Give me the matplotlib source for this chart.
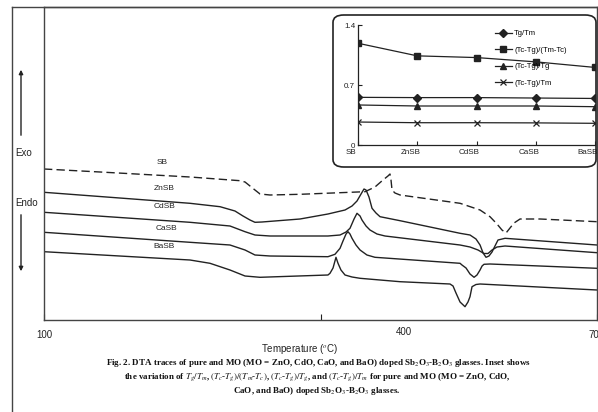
import matplotlib
matplotlib.use('Agg')
import matplotlib.pyplot as plt
import matplotlib.transforms as mtransforms
from matplotlib.patches import FancyBboxPatch, FancyArrowPatch
from matplotlib.lines import Line2D

plt.rcParams['font.family'] = ['Liberation Sans', 'DejaVu Sans']
plt.rcParams['mathtext.fontset'] = 'stix'

# DTA traces (temperature in degC, signal in arbitrary units)
sb_t = [100, 160.8, 258.4, 312.7, 318.1, 323.5, 328.9, 334.4, 345.2, 377.8, 448.3, 459.1,
        467.8, 473.2, 475.4, 476.5, 477.6, 480.8, 486.3, 551.4, 573.1, 583.9, 591.5, 596.9,
        601.3, 605.6, 610.0, 616.5, 638.2, 700]
sb_y = [151, 148, 143, 139.3, 138, 134, 130, 126, 125, 125.7, 128.3, 133,
        140, 144, 146, 140, 130, 127, 125, 116.7, 110, 103.3, 96, 90,
        87, 92, 97, 101, 101, 98.3]

zn_t = [100, 258.4, 291.0, 307.2, 315.9, 323.5, 328.9, 336.5, 377.8, 408.1, 426.6, 434.2,
        439.6, 444.0, 447.2, 449.4, 452.6, 455.9, 460.2, 464.6, 486.3, 551.4, 562.2, 568.7,
        573.1, 576.4, 579.6, 582.8, 586.1, 589.3, 592.6, 600.2, 700]
zn_y = [127.7, 116.7, 113.3, 109, 104, 100, 97.7, 98, 101, 106, 110, 114,
        119, 126, 131, 130, 123, 111.7, 107, 103.3, 99.3, 86.7, 85, 81,
        75, 67, 62.7, 64, 68, 74, 80, 81.7, 75]

cd_t = [100, 258.4, 301.8, 318.1, 328.9, 345.2, 408.1, 421.2, 427.7, 432.0, 436.4, 439.6,
        442.9, 445.0, 449.4, 453.7, 461.3, 470.0, 551.4, 562.2, 570.9, 577.4, 581.8, 586.1,
        591.5, 600.2, 700]
cd_y = [107.7, 97.7, 94, 88.3, 85, 84, 84, 85, 88, 91.7, 101, 106.7,
        104, 100, 94, 90, 86, 84, 75, 73, 70, 66.5, 66.5, 70,
        73, 74, 67.3]

ca_t = [100, 258.4, 301.8, 318.1, 328.9, 345.2, 408.1, 415.7, 421.2, 424.4, 427.7, 429.8,
        432.0, 434.2, 438.5, 442.9, 450.4, 459.1, 551.4, 553.5, 557.9, 562.2, 566.6, 569.8,
        573.1, 575.3, 577.4, 583.9, 700]
ca_y = [87.7, 77.7, 75, 70, 65, 64, 63.3, 65.7, 71.7, 79, 86, 88.3,
        86, 81.7, 75, 70, 65, 62.7, 56.7, 55, 52, 46, 42.7, 45,
        50, 54, 55.7, 56, 51.7]

ba_t = [100, 258.4, 280.1, 301.8, 318.1, 334.4, 408.1, 410.3, 413.6, 416.8, 419.0, 422.2,
        426.6, 434.2, 442.9, 486.3, 540.5, 543.8, 547.0, 551.4, 556.8, 560.0, 562.2, 564.4,
        568.7, 573.1, 700]
ba_y = [68.3, 60, 56.7, 50, 44, 42.7, 45, 46.7, 52, 62.7, 56.7, 50,
        45, 43, 41.7, 38.3, 36, 34, 27, 18, 13.3, 18, 23.3, 33.3,
        35.5, 36, 30]

# inset data
glasses = ['SB', 'ZnSB', 'CdSB', 'CaSB', 'BaSB']
tg_tm = [0.556, 0.553, 0.553, 0.548, 0.543]
k_h = [1.187, 1.04, 1.02, 0.97, 0.905]
tc_tg = [0.467, 0.455, 0.455, 0.455, 0.447]
tc_tm = [0.268, 0.26, 0.26, 0.258, 0.253]

W, H = 598, 412
fig = plt.figure(figsize=(W / 100, H / 100), dpi=100)


def fx(px):
    return px / W


def fy(py):
    return 1 - py / H


ink = '#222222'

# main DTA panel
ax = fig.add_axes([fx(44), fy(320), fx(597) - fx(44), fy(7) - fy(320)])
ax.plot(sb_t, sb_y, color=ink, lw=1.0, ls=(0, (6, 3)))
ax.plot(zn_t, zn_y, color=ink, lw=1.0)
ax.plot(cd_t, cd_y, color=ink, lw=1.0)
ax.plot(ca_t, ca_y, color=ink, lw=1.0)
ax.plot(ba_t, ba_y, color=ink, lw=1.0)
ax.set_xlim(100, 700)
ax.set_ylim(0, 313)
ax.set_yticks([])
ax.set_xticks([100, 400, 700])
ax.set_xticklabels(['100', '', '700'])
ax.tick_params(axis='x', direction='in', length=4, pad=7, labelsize=7, colors=ink)
for s in ax.spines.values():
    s.set_color('#444444')
    s.set_linewidth(1.0)

lab_kw = dict(fontsize=6, ha='center', va='center', color=ink)
ax.text(228.5, 158, 'SB', **lab_kw)
ax.text(230.7, 132, 'ZnSB', **lab_kw)
ax.text(230.7, 113, 'CdSB', **lab_kw)
ax.text(232.8, 92, 'CaSB', **lab_kw)
ax.text(230.7, 73, 'BaSB', **lab_kw)

fig.text(fx(404), fy(332), '400', fontsize=7, ha='center', va='center', color=ink)
fig.text(fx(300), fy(349), 'Temperature ($^{o}$C)', fontsize=7, ha='center', va='center',
         color=ink)

# outer frame
fig.add_artist(Line2D([fx(12), fx(12)], [fy(7), 0], transform=fig.transFigure,
                      color='#444444', lw=1.0))
fig.add_artist(Line2D([fx(12), 1], [fy(7), fy(7)], transform=fig.transFigure,
                      color='#444444', lw=1.0))

# Exo / Endo arrows
fig.text(fx(24), fy(153), 'Exo', fontsize=7, ha='center', va='center', color=ink)
fig.text(fx(27), fy(203), 'Endo', fontsize=7, ha='center', va='center', color=ink)
fig.add_artist(FancyArrowPatch((fx(21), fy(138)), (fx(21), fy(67)),
                               transform=fig.transFigure, arrowstyle='-|>',
                               mutation_scale=6, color=ink, lw=1.0))
fig.add_artist(FancyArrowPatch((fx(21), fy(212)), (fx(21), fy(274)),
                               transform=fig.transFigure, arrowstyle='-|>',
                               mutation_scale=6, color=ink, lw=1.0))

# inset frame
box = FancyBboxPatch((fx(333), fy(167)), fx(596) - fx(333), fy(15) - fy(167),
                     boxstyle='round,pad=0,rounding_size=0.018',
                     transform=fig.transFigure, facecolor='white', edgecolor=ink,
                     lw=1.2, zorder=1)
fig.add_artist(box)

ins = fig.add_axes([fx(358), fy(145), fx(595) - fx(358), fy(25) - fy(145)], zorder=2)
ins.patch.set_alpha(0)
xs = range(len(glasses))
mk = dict(color=ink, lw=0.9, ms=4.2)
ins.plot(xs, tg_tm, marker='D', label='Tg/Tm', **mk)
ins.plot(xs, k_h, marker='s', label='(Tc-Tg)/(Tm-Tc)', **mk)
ins.plot(xs, tc_tg, marker='^', label='(Tc-Tg)/Tg', **mk)
ins.plot(xs, tc_tm, marker='x', label='(Tc-Tg)/Tm', mew=0.9, **mk)
ins.set_xlim(0, 4)
ins.set_ylim(0, 1.4)
ins.set_yticks([0, 0.7, 1.4])
ins.set_yticklabels(['0', '0.7', '1.4'])
ins.set_xticks(list(xs))
ins.set_xticklabels(glasses)
ins.tick_params(direction='in', length=3, labelsize=5.8, colors=ink, pad=2)
ins.tick_params(axis='x', pad=3)
# the scanned labels sit a little left of their categories
shift = mtransforms.ScaledTranslation(-7 / 100, 0, fig.dpi_scale_trans)
for lbl in ins.get_xticklabels():
    lbl.set_transform(lbl.get_transform() + shift)
ins.spines['top'].set_visible(False)
ins.spines['right'].set_visible(False)
for s in ['left', 'bottom']:
    ins.spines[s].set_color(ink)
    ins.spines[s].set_linewidth(0.9)
ins.legend(loc='upper left', bbox_to_anchor=(fx(495), fy(30)), bbox_transform=fig.transFigure,
           frameon=False, fontsize=5.5, handlelength=2.2, labelspacing=1.2,
           borderaxespad=0, borderpad=0, handletextpad=0.3)

# caption
cap_kw = dict(fontsize=6.5, ha='center', va='center', family='Liberation Serif',
              fontweight='bold', color='#111111')
fig.text(fx(318), fy(363),
         'Fig. 2. DTA traces of pure and MO (MO = ZnO, CdO, CaO, and BaO) doped '
         'Sb$_2$O$_3$-B$_2$O$_3$ glasses. Inset shows', **cap_kw)
fig.text(fx(317), fy(377),
         r'the variation of $T_g/T_m$, $(T_c$-$T_g)/(T_m$-$T_c)$, $(T_c$-$T_g)/T_g$, and '
         r'$(T_c$-$T_g)/T_m$ for pure and MO (MO = ZnO, CdO,', **cap_kw)
fig.text(fx(317), fy(391), 'CaO, and BaO) doped Sb$_2$O$_3$-B$_2$O$_3$ glasses.', **cap_kw)

fig.savefig('out.png', dpi=100)
